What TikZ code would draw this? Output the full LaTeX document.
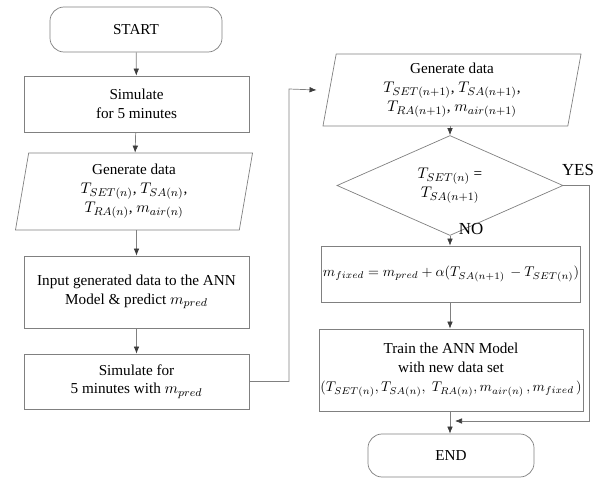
\documentclass[tikz,border=0pt]{standalone}
\usepackage{fontspec}
\setmainfont{Liberation Serif}
\usepackage{tikz}
\usetikzlibrary{positioning, arrows.meta, shapes.geometric}

\definecolor{LineColor}{RGB}{128,128,128}
\definecolor{TipColor}{RGB}{60,60,60}

\tikzset{
  base/.style={draw=LineColor, line width=0.5pt, align=center, inner sep=1pt,
    font=\rmfamily\fontsize{10.8}{13.5}\selectfont},
  terminal/.style={base, rectangle, rounded corners=10pt},
  process/.style={base, rectangle},
  io/.style={base, trapezium, trapezium left angle=77, trapezium right angle=103,
    trapezium stretches body},
  decision/.style={base, diamond, inner sep=0pt},
  flow/.style={draw=LineColor, line width=0.5pt,
    -{Latex[length=5pt,width=4pt,fill=TipColor,color=TipColor]}},
  answer/.style={font=\rmfamily\fontsize{12}{14}\selectfont}
}
\newcommand{\smallmath}{\fontsize{9.9}{13.5}\selectfont}

\begin{document}
\begin{tikzpicture}[x=0.025cm, y=-0.025cm]
  \useasboundingbox (0,0) rectangle (600,479);

  % Left column
  \node[terminal, minimum width=4.3cm, minimum height=1.125cm] (start) at (136,29.5) {START};
  \node[process, minimum width=5.625cm, minimum height=1.4cm] (sim) at (136.5,104) {Simulate\\for 5 minutes};
  \node[io, minimum width=5.925cm, minimum height=1.925cm] (gen) at (134,191.5)
    {Generate data\\$T_{SET(n)}$, $T_{SA(n)}$,\\$T_{RA(n)}$, $m_{air(n)}$};
  \node[process, minimum width=5.625cm, minimum height=1.8cm] (input) at (136.5,292)
    {Input generated data to the ANN\\Model \& predict $m_{pred}$};
  \node[process, minimum width=5.625cm, minimum height=1.375cm] (simpred) at (136.5,381.5)
    {Simulate for\\5 minutes with $m_{pred}$};

  % Right column
  \node[io, minimum width=6.45cm, minimum height=1.8cm] (gennext) at (452,90)
    {Generate data\\$T_{SET(n+1)}$, $T_{SA(n+1)}$,\\$T_{RA(n+1)}$, $m_{air(n+1)}$};
  \node[decision, minimum width=5.65cm, minimum height=1.625cm] (check) at (450,185.5)
    {$T_{SET(n)}$ =\\$T_{SA(n+1)}$};
  \node[process, minimum width=6.45cm, minimum height=1.4cm] (fix) at (451,274)
    {\smallmath $m_{fixed} = m_{pred} + \alpha(T_{SA(n+1)}\, - T_{SET(n)})$};
  \node[process, minimum width=6.45cm, minimum height=2.05cm] (train) at (451,370)
    {Train the ANN Model\\with new data set\\{\smallmath $(T_{SET(n)},T_{SA(n)},\; T_{RA(n)},m_{air(n)}\,,m_{fixed}\,)$}};
  \node[terminal, minimum width=4.15cm, minimum height=1.075cm] (end) at (451,455.5) {END};

  % Connector points
  \coordinate (up) at (289,381.5);
  \coordinate (over) at (289,89);
  \coordinate (side) at (589,185.5);
  \coordinate (join) at (455,421);

  % Arrows
  \draw[flow] (start) -- (sim);
  \draw[flow] (sim) -- (gen);
  \draw[flow] (gen.south -| sim) -- (input);
  \draw[flow] (input) -- (simpred);
  \draw[flow] (simpred.east) -- (up) -- (over) -- ([xshift=-9]gennext.west);
  \draw[flow] (gennext.south -| check) -- (check);
  \draw[flow] (check.south) -- (fix.north -| check.south);
  \draw[flow] (fix.south -| check.south) -- (train.north -| check.south);
  \draw[flow] (train.south -| check.south) -- (end.north -| check.south);
  \draw[flow] (check.east) -- (side) |- (join);

  % Labels
  \node[answer] (yes) at (578,170) {YES};
  \node[answer] (no) at (471,229) {NO};
\end{tikzpicture}
\end{document}
